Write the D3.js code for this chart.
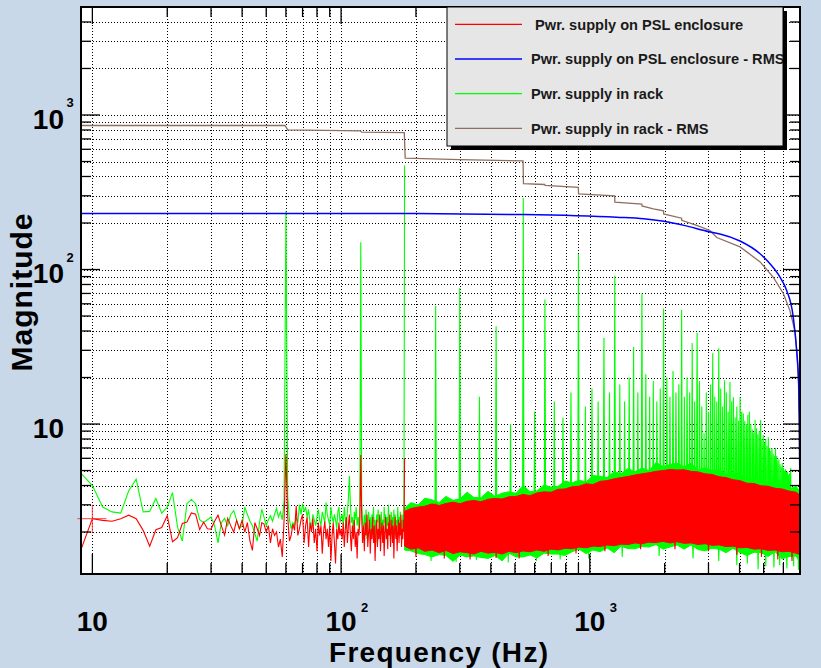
<!DOCTYPE html>
<html>
<head>
<meta charset="utf-8">
<script src="https://cdn.jsdelivr.net/npm/d3@7"></script>
<style>
  html, body { margin: 0; padding: 0; background: #c8d8e9; }
  svg { display: block; }
  text { font-family: "Liberation Sans", Arial, Helvetica, sans-serif; font-weight: bold; }
</style>
</head>
<body>
<div id="chart"></div>
<script>
// ---- data ----

// low frequency part, 1 Hz bins from 9 to 180 Hz
const lowFreq = d3.range(9, 181);
const greenLow = [4.8, 4.0, 2.9, 2.7, 2.65, 3.7, 4.4, 2.7, 2.72, 3.3,
    2.65, 2.9, 3.6, 2.15, 1.75, 3.05, 3.25, 3.05, 2.4, 2.3,
    2.4, 2.5, 2.2, 1.7, 2.3, 2.45, 2.2, 2.6, 2.75, 2.4,
    2.1, 2.2, 2.9, 2.6, 2.35, 2.2, 1.95, 1.75, 2.3, 2.8,
    2.5, 2.2, 2.4, 2.55, 2.35, 2.6, 2.85, 2.5, 2.7, 2.4,
    3.2, 238, 3.4, 2.4, 2.1, 2.3, 2.2, 2.5, 2.3, 3.0,
    2.6, 3.05, 2.7, 2.9, 2.5, 2.8, 2.3, 2.1, 2.6, 2.4,
    2.2, 2.5, 2.8, 2.4, 2.2, 2.7, 2.5, 2.3, 3.1, 2.6,
    2.4, 2.2, 2.9, 2.5, 2.3, 2.6, 2.4, 2.1, 2.7, 2.9,
    2.3, 2.5,
    2.6, 2.2, 2.9, 2.4, 2.1, 2.7, 3.3, 4.6, 3.0, 2.3,
    2.5, 2.0, 2.7, 2.4, 2.9, 2.2, 2.5, 2.1, 3.0, 150,
    3.1, 2.3, 2.0, 2.6, 2.2, 2.8, 1.8, 2.4, 2.7, 2.1,
    2.5, 1.9, 2.6, 2.3, 2.9, 2.0, 2.4, 1.7, 2.6, 2.3,
    2.8, 2.1, 2.5, 1.9, 2.7, 2.2, 2.4, 1.8, 2.9, 2.3,
    2.6, 2.0, 2.5, 2.2, 3.0, 2.1, 2.4, 1.75, 2.7, 2.3,
    2.5, 2.0, 2.8, 2.2, 2.6, 1.9, 2.4, 2.1, 2.9, 2.3,
    2.5, 2.0, 2.7, 2.2, 2.4, 1.8, 2.6, 2.3, 3.1, 471];
const redLow = [1.54, 2.44, 2.38, 2.35, 2.44, 2.57, 2.44, 2.05, 1.62, 2.07,
    2.14, 2.55, 1.73, 1.84, 2.27, 2.32, 2.66, 2.61, 2.08, 2.32,
    2.1, 2.09, 2.35, 2.57, 2.2, 1.91, 2.45, 2.2, 2.0, 2.38,
    2.1, 2.38, 2.0, 2.3, 1.75, 1.52, 2.3, 2.1, 1.9, 2.3,
    2.25, 2.0, 2.2, 1.7, 2.1, 1.9, 2.0, 1.6, 1.8, 1.38,
    2.4, 6.4, 2.5, 1.75, 1.9, 2.25, 2.05, 2.95, 1.9, 2.1,
    2.4, 2.6, 1.7, 2.2, 2.5, 1.6, 2.3, 2.0, 2.45, 1.7,
    2.1, 1.5, 2.3, 1.9, 2.2, 1.45, 2.0, 2.35, 1.8, 2.1,
    1.6, 2.2, 1.3, 1.9, 2.3, 1.7, 1.25, 2.1, 1.8, 2.3,
    1.9, 2.1,
    1.8, 2.3, 1.6, 2.1, 2.5, 1.7, 2.2, 2.6, 1.9, 1.5,
    2.2, 1.8, 2.4, 1.6, 2.0, 1.35, 2.1, 1.9, 2.4, 6.3,
    2.5, 1.7, 2.2, 1.5, 2.3, 1.9, 2.6, 1.6, 2.0, 2.4,
    1.45, 2.1, 1.8, 2.5, 1.7, 2.2, 1.3, 2.0, 2.4, 1.6,
    2.1, 1.8, 2.6, 1.5, 2.0, 2.3, 1.7, 2.2, 1.4, 2.0,
    2.5, 1.8, 2.1, 1.55, 2.3, 1.9, 2.6, 1.6, 2.0, 2.4,
    1.7, 2.2, 1.35, 2.1, 2.5, 1.8, 2.2, 1.5, 2.0, 2.4,
    1.7, 2.3, 1.9, 2.6, 1.6, 2.1, 1.8, 2.4, 2.0, 6.0];

// above 180 Hz the traces are too dense to separate: upper / lower edge of each band
const bandFreq = [180, 191, 204, 217, 232, 248, 264, 282, 301, 321, 342, 365, 390, 416, 444,
    473, 505, 539, 575, 613, 655, 698, 745, 795, 848, 905, 966, 1030, 1100, 1173,
    1252, 1336, 1425, 1520, 1622, 1731, 1846, 1970, 2102, 2243, 2393, 2553, 2724, 2906,
    3101, 3308, 3530, 3766, 4018, 4287, 4575, 4881, 5208, 5556, 5928, 6325, 6749, 7000];
const redHi = [2.72, 2.84, 2.90, 2.94, 3.04, 2.97, 3.06, 3.12, 3.05, 3.16, 3.20, 3.14, 3.26, 3.30, 3.27,
    3.38, 3.40, 3.50, 3.44, 3.58, 3.64, 3.62, 3.78, 3.80, 3.92, 3.96, 4.10, 4.06, 4.26, 4.30,
    4.42, 4.50, 4.58, 4.68, 4.76, 4.84, 4.94, 5.00, 5.08, 5.04, 5.06, 4.94, 4.90, 4.76,
    4.72, 4.56, 4.50, 4.36, 4.30, 4.14, 4.12, 3.98, 3.96, 3.84, 3.80, 3.68, 3.62, 3.46];
const redLo = [1.62, 1.55, 1.58, 1.50, 1.53, 1.47, 1.52, 1.45, 1.49, 1.47, 1.44, 1.50, 1.46, 1.48, 1.44,
    1.50, 1.47, 1.51, 1.49, 1.53, 1.50, 1.55, 1.53, 1.57, 1.56, 1.60, 1.58, 1.62, 1.61, 1.65,
    1.63, 1.67, 1.66, 1.70, 1.68, 1.72, 1.71, 1.74, 1.70, 1.73, 1.69, 1.70, 1.66, 1.68,
    1.64, 1.65, 1.61, 1.62, 1.58, 1.59, 1.55, 1.56, 1.52, 1.53, 1.49, 1.50, 1.46, 1.43];
const greenHi = [2.85, 3.10, 2.99, 3.31, 3.23, 3.11, 3.40, 3.21, 3.28, 3.62, 3.35, 3.33, 3.67, 3.40, 3.57,
    3.64, 3.56, 4.00, 3.65, 3.69, 4.04, 3.90, 3.95, 4.28, 4.16, 4.33, 4.22, 4.64, 4.59, 4.50,
    4.91, 4.77, 5.16, 4.90, 5.20, 4.99, 5.65, 5.31, 5.47, 5.59, 5.29, 5.57, 5.05, 5.20,
    5.01, 5.06, 4.71, 4.70, 4.85, 4.26, 4.50, 4.22, 4.14, 4.26, 4.09, 3.79, 3.96, 3.67];
const greenLo = [1.53, 1.51, 1.45, 1.43, 1.38, 1.43, 1.41, 1.29, 1.42, 1.38, 1.40, 1.37, 1.35, 1.41, 1.30,
    1.46, 1.38, 1.38, 1.42, 1.36, 1.46, 1.44, 1.44, 1.41, 1.49, 1.55, 1.45, 1.53, 1.49, 1.58,
    1.47, 1.62, 1.56, 1.56, 1.61, 1.60, 1.66, 1.55, 1.60, 1.65, 1.55, 1.65, 1.54, 1.51,
    1.57, 1.55, 1.47, 1.57, 1.47, 1.41, 1.48, 1.47, 1.39, 1.49, 1.34, 1.39, 1.40, 1.27];

// line harmonics sticking out of the bands
const greenPeakFreq = [240, 300, 360, 420, 480, 540, 600, 660, 720, 780, 840, 900, 960, 1020,
    1080, 1140, 1200, 1260, 1320, 1380, 1440, 1500, 1560, 1620, 1680, 1740, 1800, 1860,
    1920, 1980, 2040, 2100, 2160, 2220, 2280, 2340, 2400, 2460, 2520, 2580, 2640, 2700,
    2760, 2820, 2880, 2940, 3000, 3060, 3120, 3180, 3240, 3300, 3360, 3420, 3480, 3540,
    3600, 3660, 3720, 3780, 3840, 3900, 3960, 4020, 4080, 4140, 4200, 4260, 4320, 4380,
    4440, 4500, 4560, 4620, 4680, 4740, 4800, 4860, 4920, 4980, 5040, 5100, 5160, 5220,
    5280, 5340, 5400, 5460, 5520, 5580, 5640, 5700, 5760, 5820, 5880, 5940, 6000, 6060,
    6120, 6180, 6240, 6300, 6360, 6420];
const greenPeakVal = [58, 76, 15, 43, 10, 290, 12, 64, 14, 11, 16, 126, 13, 17,
    14, 36, 16, 91, 18, 14, 20, 31.5, 16, 70, 21, 15, 19, 14,
    17, 56, 20, 15, 22, 16, 18, 55, 15, 20, 16, 33.5, 14, 39,
    19, 13, 8.7, 16, 12, 18, 28.7, 15, 14, 30.9, 17, 13, 19.2, 16,
    12, 18.7, 14, 14.9, 11, 13, 10.5, 14.9, 12, 11.7, 10.5, 10, 11.5, 12,
    10, 9.2, 8.8, 10.6, 9.4, 8.6, 9.0, 10.6, 8.0, 8.5, 7.6, 8.0, 7.2, 8.2,
    7.0, 6.7, 7.0, 6.4, 6.2, 7.0, 6.2, 5.8, 5.9, 5.5, 5.3, 5.6, 5.2, 5.0,
    5.1, 4.9, 4.9, 4.7, 4.8, 5.2];
const redPeakFreq = [240];
const redPeakVal = [3.06];

// single low bins poking out under the bands
const greenDipFreq = [230, 290, 350, 470, 610, 760, 990, 1350, 1900, 2600, 3300, 3900, 4300,
    4750, 5100, 5500, 5800, 6200, 6600, 6900];
const greenDipVal = [1.3, 1.28, 1.32, 1.27, 1.3, 1.33, 1.35, 1.38, 1.4, 1.35, 1.3, 1.22, 1.25,
    1.15, 1.2, 1.18, 1.22, 1.16, 1.2, 1.14];
const redDipFreq = [200, 260, 330, 420, 520, 680, 880, 1150, 1600, 2200, 3000, 3900, 4900, 5700, 6500];
const redDipVal = [1.38, 1.35, 1.33, 1.36, 1.35, 1.4, 1.45, 1.5, 1.55, 1.55, 1.5, 1.42, 1.38, 1.33, 1.3];

// RMS curves
const blueFreq = [9, 200, 540, 1283, 1648, 1985, 2391, 3043, 3337, 4018, 4836, 5303, 5817,
    6188, 6577, 6786, 6913, 6951, 6990, 7000];
const blueVal = [230, 230, 227, 218, 213, 205, 193, 175, 170, 153, 126.5, 109, 89.3,
    73.2, 49.2, 30, 18.3, 11.1, 4, 1.07];
const brownFreq = [9, 59.5, 61, 119.5, 121, 179.5, 181, 300, 539, 541, 659, 661, 899, 901,
    1259, 1261, 1619, 1621, 1800, 1979, 1981, 2339, 2341, 2690, 3040, 3240, 4020, 4840,
    5470, 6000, 6380, 6680, 6790, 6910, 6950, 6990, 7000];
const brownVal = [855, 855, 802, 790, 774, 770, 525, 515, 505, 359, 355, 350, 340, 309,
    300, 273, 265, 258, 247, 240, 229, 215, 208, 193, 179, 161, 140, 112,
    89, 70, 54, 40, 30, 18.3, 11.1, 4, 1.07];

// axis labels (base 10, exponent)
const xLabelVal = [10, 100, 1000];
const xLabelExp = ["", "2", "3"];
const yLabelVal = [10, 100, 1000];
const yLabelExp = ["", "2", "3"];

const legendNames = [" Pwr. supply on PSL enclosure", "Pwr. supply on PSL enclosure - RMS",
    "Pwr. supply in rack", "Pwr. supply in rack - RMS"];
const legendColors = ["#ff0000", "#0000ff", "#00ff00", "#8f7060"];

// ---- drawing ----
const width = 821;
const height = 668;
const frame = { left: 81, right: 800, top: 7, bottom: 574 };

const svg = d3.select("#chart").append("svg")
    .attr("width", width)
    .attr("height", height);

svg.append("rect")
    .attr("width", width).attr("height", height)
    .attr("fill", "#c8d8e9");

const x = d3.scaleLog().domain([9, 7000]).range([frame.left, frame.right]);
const y = d3.scaleLog().domain([1.07, 5000]).range([frame.bottom, frame.top]);

// plot area
svg.append("rect")
    .attr("x", frame.left).attr("y", frame.top)
    .attr("width", frame.right - frame.left)
    .attr("height", frame.bottom - frame.top)
    .attr("fill", "white");

svg.append("clipPath").attr("id", "plotClip")
    .append("rect")
    .attr("x", frame.left).attr("y", frame.top)
    .attr("width", frame.right - frame.left)
    .attr("height", frame.bottom - frame.top);

const isMajor = v => Math.abs(Math.log10(v) - Math.round(Math.log10(v))) < 1e-9;
const xTicks = x.ticks();
const yTicks = y.ticks();

// dotted grid
const grid = svg.append("g")
    .attr("stroke", "#000")
    .attr("stroke-width", 1)
    .attr("stroke-dasharray", "1,2");

grid.selectAll(".gx")
    .data(xTicks.filter(d => x(d) > frame.left + 1 && x(d) < frame.right - 1))
    .enter().append("line")
    .attr("x1", d => Math.round(x(d)) + 0.5).attr("x2", d => Math.round(x(d)) + 0.5)
    .attr("y1", frame.top).attr("y2", frame.bottom);

grid.selectAll(".gy")
    .data(yTicks.filter(d => y(d) > frame.top + 1 && y(d) < frame.bottom - 1))
    .enter().append("line")
    .attr("y1", d => Math.round(y(d)) + 0.5).attr("y2", d => Math.round(y(d)) + 0.5)
    .attr("x1", frame.left).attr("x2", frame.right);

// data
const plot = svg.append("g").attr("clip-path", "url(#plotClip)");

const line = d3.line().x(d => x(d[0])).y(d => y(d[1]));
const band = d3.area().x(d => x(d[0])).y0(d => y(d[1])).y1(d => y(d[2]));
const peakBase = 2;

// one-bin spike from the band centre to the given value (up or down)
function spikes(g, color, freqs, vals) {
    g.selectAll(null)
        .data(freqs.map((f, i) => [f, vals[i]]))
        .enter().append("path")
        .attr("d", d => {
            const px = x(d[0]);
            return "M" + (px - 0.7) + "," + y(peakBase) + "L" + px + "," + y(d[1]) +
                "L" + (px + 0.7) + "," + y(peakBase);
        })
        .attr("fill", color)
        .attr("stroke", color)
        .attr("stroke-width", 1.1);
}

function drawSpectrum(color, vals, lo, hi, peakFreq, peakVal, dipFreq, dipVal) {
    const g = plot.append("g");
    g.append("path")
        .datum(lowFreq.map((f, i) => [f, vals[i]]))
        .attr("d", line)
        .attr("fill", "none")
        .attr("stroke", color)
        .attr("stroke-width", 1.1);
    g.append("path")
        .datum(bandFreq.map((f, i) => [f, lo[i], hi[i]]))
        .attr("d", band)
        .attr("fill", color)
        .attr("stroke", color)
        .attr("stroke-width", 1);
    spikes(g, color, peakFreq, peakVal);
    spikes(g, color, dipFreq, dipVal);
}

drawSpectrum("#00ff00", greenLow, greenLo, greenHi, greenPeakFreq, greenPeakVal, greenDipFreq, greenDipVal);

plot.append("path")
    .datum(brownFreq.map((f, i) => [f, brownVal[i]]))
    .attr("d", line)
    .attr("fill", "none")
    .attr("stroke", "#8f7060")
    .attr("stroke-width", 1.3);

drawSpectrum("#ff0000", redLow, redLo, redHi, redPeakFreq, redPeakVal, redDipFreq, redDipVal);

plot.append("path")
    .datum(blueFreq.map((f, i) => [f, blueVal[i]]))
    .attr("d", line.curve(d3.curveMonotoneX))
    .attr("fill", "none")
    .attr("stroke", "#0000ff")
    .attr("stroke-width", 1.5);

// red cross marker on the 10 Hz point (sits over the frame edge)
const mx = x(lowFreq[1]);
const my = y(redLow[1]);
svg.append("path")
    .attr("d", `M${mx - 15},${my}H${mx + 14}M${mx},${my - 14}V${my + 14}`)
    .attr("stroke", "#ff3030")
    .attr("stroke-opacity", 0.75)
    .attr("stroke-width", 1.2);

// frame
svg.append("rect")
    .attr("x", frame.left).attr("y", frame.top)
    .attr("width", frame.right - frame.left)
    .attr("height", frame.bottom - frame.top)
    .attr("fill", "none")
    .attr("stroke", "#000")
    .attr("stroke-width", 2);

// ticks on all four sides
const ticks = svg.append("g").attr("stroke", "#000").attr("stroke-width", 1.3);
xTicks.forEach(d => {
    const px = x(d);
    const big = isMajor(d);
    ticks.append("line").attr("x1", px).attr("x2", px)
        .attr("y1", frame.bottom).attr("y2", frame.bottom - (big ? 20 : 11));
    ticks.append("line").attr("x1", px).attr("x2", px)
        .attr("y1", frame.top).attr("y2", frame.top + (big ? 17 : 10));
});
yTicks.forEach(d => {
    const py = y(d);
    const big = isMajor(d);
    ticks.append("line").attr("y1", py).attr("y2", py)
        .attr("x1", frame.left).attr("x2", frame.left + (big ? 19 : 10));
    ticks.append("line").attr("y1", py).attr("y2", py)
        .attr("x1", frame.right).attr("x2", frame.right - (big ? 17 : 10));
});

// tick labels
xLabelVal.forEach((v, i) => {
    const px = x(v);
    svg.append("text")
        .attr("x", px).attr("y", 631)
        .attr("text-anchor", "middle")
        .style("font-size", "28px")
        .text("10");
    if (xLabelExp[i]) {
        svg.append("text")
            .attr("x", px + 20).attr("y", 611.5)
            .style("font-size", "13px")
            .text(xLabelExp[i]);
    }
});
yLabelVal.forEach((v, i) => {
    const py = y(v);
    svg.append("text")
        .attr("x", 64).attr("y", py + 13.5)
        .attr("text-anchor", "end")
        .style("font-size", "28px")
        .text("10");
    if (yLabelExp[i]) {
        svg.append("text")
            .attr("x", 66.5).attr("y", py - 8)
            .style("font-size", "13px")
            .text(yLabelExp[i]);
    }
});

// axis titles
svg.append("text")
    .attr("x", 438.5).attr("y", 661.5)
    .attr("text-anchor", "middle")
    .attr("textLength", 219)
    .style("font-size", "28px")
    .text("Frequency (Hz)");

svg.append("text")
    .attr("transform", "translate(31.5,292.5) rotate(-90)")
    .attr("text-anchor", "middle")
    .attr("textLength", 158)
    .style("font-size", "30px")
    .text("Magnitude");

// legend box with shadow
const lg = { x: 447, y: 7, w: 336, h: 139 };
svg.append("rect")
    .attr("x", lg.x + 4).attr("y", lg.y + 4)
    .attr("width", lg.w).attr("height", lg.h)
    .attr("fill", "#000");
svg.append("rect")
    .attr("x", lg.x).attr("y", lg.y)
    .attr("width", lg.w).attr("height", lg.h)
    .attr("fill", "#e6e6e6")
    .attr("stroke", "#000")
    .attr("stroke-width", 1);

svg.append("clipPath").attr("id", "legendClip")
    .append("rect")
    .attr("x", lg.x).attr("y", lg.y)
    .attr("width", lg.w).attr("height", lg.h);

const entries = svg.append("g").attr("clip-path", "url(#legendClip)")
    .selectAll(".entry")
    .data(legendNames)
    .enter().append("g")
    .attr("transform", (d, i) => `translate(0,${24.3 + i * 34.7})`);

entries.append("line")
    .attr("x1", 455).attr("x2", 522)
    .attr("stroke", (d, i) => legendColors[i])
    .attr("stroke-width", 1.3);

entries.append("text")
    .attr("x", 531).attr("y", 5.2)
    .attr("xml:space", "preserve")
    .style("font-size", "14.6px")
    .style("white-space", "pre")
    .attr("fill", "#1a1a1a")
    .text(d => d);
</script>
</body>
</html>
